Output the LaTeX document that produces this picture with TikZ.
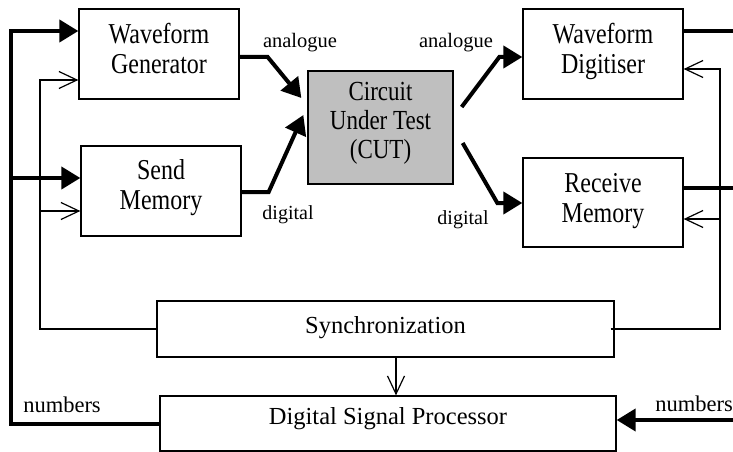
\documentclass[tikz,border=0pt]{standalone}
\usepackage{fontspec}
\setmainfont{Liberation Serif}
\usetikzlibrary{arrows.meta,calc}
% tall lettering used inside the multi-line blocks
\newcommand\vstr[1]{\scalebox{1}[1.2]{#1}}
\begin{document}
\begin{tikzpicture}[x=1pt,y=-1pt,
  box/.style={draw, line width=1.3pt, minimum width=160pt, minimum height=90pt,
    inner sep=0pt},
  boxtext/.style={align=center, inner sep=0pt, font=\fontsize{24}{30}\selectfont},
  linetext/.style={inner sep=0pt, font=\fontsize{24.5}{30}\selectfont},
  bus/.style={line width=4pt},
  busarrow/.style={bus, -{Triangle[length=19pt,width=22pt]}},
  ctl/.style={line width=1.2pt},
  ctlarrow/.style={ctl, -{Straight Barb[length=18pt,width=17pt]}},
  lbl/.style={font=\fontsize{20.5}{24}\selectfont, inner sep=0pt},
  numlbl/.style={font=\fontsize{22.5}{26}\selectfont, inner sep=0pt},
  diglbl/.style={font=\fontsize{20}{24}\selectfont, inner sep=0pt}]
  \useasboundingbox (0,0) rectangle (733,452);

  % blocks
  \node[box, label={[boxtext, yshift=5.5pt]center:{\vstr{Waveform}\\\vstr{Generator}}}] (wg) at (159,54) {};
  \node[box, label={[boxtext, yshift=3.4pt]center:{\vstr{Send}\\\vstr{Memory}}}] (sm) at (161,191) {};
  \node[box, fill=black!25, minimum width=145pt, minimum height=113pt,
    label={[boxtext, font=\fontsize{23}{29}\selectfont, yshift=3.8pt]center:{\vstr{Circuit}\\\vstr{Under Test}\\\vstr{(CUT)}}}] (cut) at (380.5,127.5) {};
  \node[box, label={[boxtext, yshift=2.4pt]center:{\vstr{Waveform}\\\vstr{Digitiser}}}] (wd) at (603,54) {};
  \node[box, minimum height=89pt, label={[boxtext, yshift=1.2pt]center:{\vstr{Receive}\\\vstr{Memory}}}] (rm) at (603,202.5) {};
  \node[box, minimum width=457pt, minimum height=56pt,
    label={[linetext, yshift=1.4pt]center:Synchronization}] (sync) at (385.5,329) {};
  \node[box, minimum width=456pt, minimum height=55pt,
    label={[linetext, yshift=5.2pt]center:Digital Signal Processor}] (dsp) at (388,423.5) {};

  % signal paths through the circuit under test
  \draw[busarrow] ([yshift=-3pt]wg.east) -- ++(28,0) -- ($(cut.west)+(-6,-29.5)$);
  \draw[busarrow] ([yshift=-1pt]sm.east) -- ++(27,0) -- ($(cut.west)+(-4,-12.5)$);
  \draw[busarrow] ($(cut.east)+(8,-20.5)$) -- ($(wd.west)+(-23,3)$) -- ([yshift=-3pt]wd.west);
  \draw[busarrow] ($(cut.east)+(9,15.5)$) -- ($(rm.west)+(-25,0.5)$) -- ($(rm.west)+(0,0.5)$);

  \node[lbl] (la1) at (300,42.5) {analogue};
  \node[diglbl] (ld1) at (288,215) {digital};
  \node[lbl] (la2) at (456,42.5) {analogue};
  \node[diglbl] (ld2) at (463,220) {digital};

  % number buses to and from the processor
  \coordinate (busL) at (11,31);
  \coordinate (busM) at (11,178);
  \draw[busarrow] (dsp.west) -| (busL) -- (wg.west |- busL);
  \draw[busarrow] (busM) -- (sm.west |- busM);

  \coordinate (wdOut) at (733,31);
  \coordinate (rmOut) at (733,188);
  \coordinate (numIn) at (733,420);
  \draw[bus] (wd.east |- wdOut) -- (wdOut);
  \draw[bus] (rm.east |- rmOut) -- (rmOut);
  \draw[busarrow] (numIn) -- (dsp.east |- numIn);

  \node[numlbl] (n1) at (62,404.5) {numbers};
  \node[numlbl, anchor=east] (n2) at (733,404) {numbers};

  % synchronization lines
  \coordinate (syncTL) at (40,80);
  \coordinate (smIn) at (40,211);
  \draw[ctlarrow] (sync.west) -| (syncTL) -- (wg.west |- syncTL);
  \draw[ctlarrow] (smIn) -- (sm.west |- smIn);

  \coordinate (syncTR) at (720,69);
  \coordinate (rmIn) at (720,219);
  \draw[ctlarrow] ([xshift=-4pt]sync.east) -| (syncTR) -- (wd.east |- syncTR);
  \draw[ctlarrow] (rmIn) -- (rm.east |- rmIn);

  \coordinate (syncOut) at ([xshift=10.5pt]sync.south);
  \draw[ctlarrow] (syncOut) -- (syncOut |- dsp.north);
\end{tikzpicture}
\end{document}
